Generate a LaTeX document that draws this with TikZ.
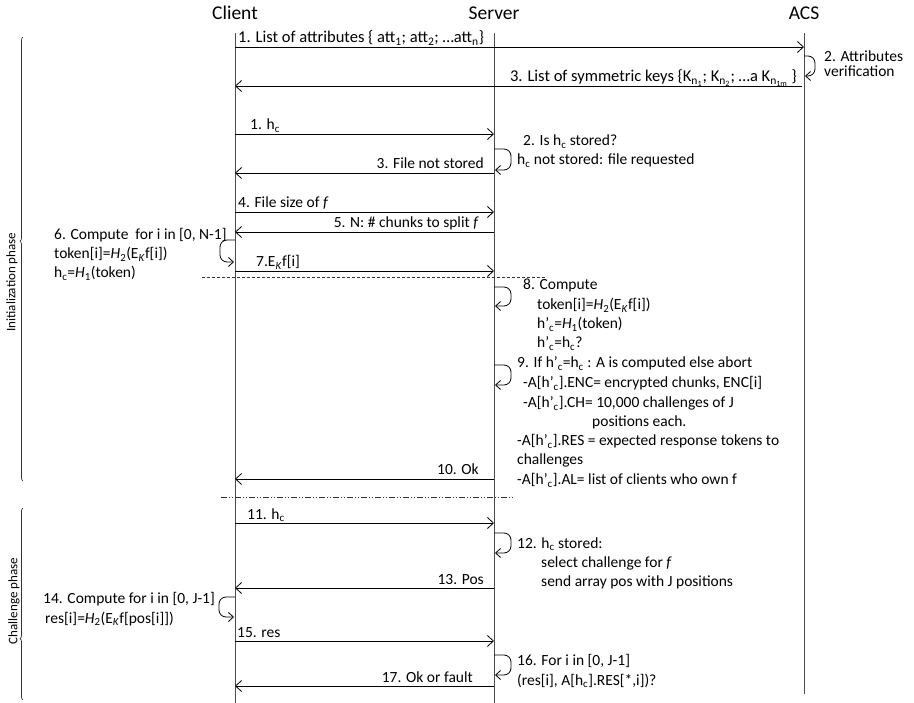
\documentclass[tikz,border=0pt]{standalone}
\usepackage{fontspec}
\setmainfont{Carlito}
\usetikzlibrary{arrows.meta,decorations.pathreplacing,calc}
\newcommand{\sbs}[1]{\textsubscript{#1}}
\newcommand{\hc}{h\sbs{c}}
\newcommand{\hpc}{h’\sbs{c}}
\newcommand{\EK}{E\sbs{\textit{K}}}
\begin{document}
\begin{tikzpicture}[x=1pt,y=-1pt,
  life/.style={draw=black!70,line width=0.8pt},
  msg/.style={draw=black,line width=0.8pt,-{Straight Barb[length=6pt,width=11pt]}},
  selfloop/.style={draw=black,line width=0.8pt,rounded corners=7pt,-{Straight Barb[length=5pt,width=9pt]},shorten >=1pt},
  lbl/.style={anchor=base west,inner sep=0pt,font=\fontsize{15.5}{18}\selectfont},
  rlbl/.style={anchor=base east,inner sep=0pt,font=\fontsize{15.5}{18}\selectfont},
  widelbl/.style={font=\fontsize{16.5}{19}\selectfont},
  head/.style={anchor=base,inner sep=0pt,font=\fontsize{19.5}{22}\selectfont},
  phase/.style={rotate=90,inner sep=0pt,font=\fontsize{13}{15}\selectfont},
  phbrace/.style={draw=black!80,line width=0.7pt,decorate}]
\useasboundingbox (0,0) rectangle (914,703);

% heads
\node[head] (hC) at (235,20) {Client};
\node[head] (hS) at (494,20) {Server};
\node[head] (hA) at (804,20) {ACS};

% lifelines
\coordinate (Ctop) at (235,33); \coordinate (Cbot) at (235,703);
\coordinate (Stop) at (494,33); \coordinate (Sbot) at (494,703);
\coordinate (Atop) at (804,33); \coordinate (Abot) at (804,694);
\draw[life] (Ctop) -- (Cbot);
\draw[life] (Stop) -- (Sbot);
\draw[life] (Atop) -- (Abot);

% message coordinates
\foreach \n/\y in {m1/47,m3/86,n1/134,n3/173,n4/212,n5/232,n7/271,n10/479,n11/523,n13/588,n15/641,n17/686,
  l2a/56,l2b/76,k2a/149,k2b/170,k6a/240,k6b/262,k8a/287,k8b/306,k9a/365,k9b/385,k12a/533,k12b/553,k14a/597,k14b/617,k16a/655,k16b/675}{
  \coordinate (C\n) at (235,\y);
  \coordinate (S\n) at (494,\y);
  \coordinate (A\n) at (804,\y);
}
\coordinate (Am3s) at (802,86);

% ACS exchange
\draw[msg] (Cm1) -- (Am1);
\node[lbl,widelbl] (t1) at (238,43) {1. List of attributes \{ att\sbs{1}; att\sbs{2}; …att\sbs{n}\}};
\draw[selfloop] (Al2a) -- ++(11,0) |- (Al2b);
\node[lbl] (t2a) at (824,62) {2. Attributes};
\node[lbl] (t2b) at (824,77) {verification};
\draw[msg] (Am3s) -- (Cm3);
\node[rlbl,widelbl] (t3) at (797,82) {3. List of symmetric keys \{K\sbs{n\sbs{1}}; K\sbs{n\sbs{2}}; …a K\sbs{n\sbs{1m}} \}};

% initialization with server
\draw[msg] (Cn1) -- (Sn1);
\node[lbl] (u1) at (250,130) {1. \hc};
\draw[selfloop] (Sk2a) -- ++(17,0) |- (Sk2b);
\node[lbl] (u2a) at (523,146) {2. Is \hc\ stored?};
\node[lbl] (u2b) at (517,165) {\hc\ not stored: file requested};
\draw[msg] (Sn3) -- (Cn3);
\node[rlbl] (u3) at (484,169) {3. File not stored};
\draw[msg] (Cn4) -- (Sn4);
\node[lbl] (u4) at (238,208) {4. File size of \textit{f}};
\draw[msg] (Sn5) -- (Cn5);
\node[rlbl] (u5) at (479,228) {5. N: \# chunks to split \textit{f}};
\draw[selfloop] (Ck6a) -- ++(-15,0) |- (Ck6b);
\node[lbl] (u6a) at (54,240) {6. Compute~ for i in [0, N-1]};
\node[lbl] (u6b) at (54,259) {token[i]=\textit{H}\sbs{2}(\EK f[i])};
\node[lbl] (u6c) at (54,278) {\hc=\textit{H}\sbs{1}(token)};
\draw[msg] (Cn7) -- (Sn7);
\node[lbl] (u7) at (256,267) {7.\EK f[i]};
\coordinate (d1a) at (202,277); \coordinate (d1b) at (547,277);
\draw[black!80,line width=0.7pt,dash pattern=on 3pt off 2pt] (d1a) -- (d1b);

\draw[selfloop] (Sk8a) -- ++(17,0) |- (Sk8b);
\node[lbl] (u8a) at (523,290) {8. Compute};
\node[lbl] (u8b) at (537,310) {token[i]=\textit{H}\sbs{2}(\EK f[i])};
\node[lbl] (u8c) at (537,329) {\hpc=\textit{H}\sbs{1}(token)};
\node[lbl] (u8d) at (537,348) {\hpc=\hc?};
\draw[selfloop] (Sk9a) -- ++(17,0) |- (Sk9b);
\node[lbl] (u9a) at (517,368) {9. If \hpc=\hc\ : A is computed else abort};
\node[lbl] (u9b) at (523,388) {-A[\hpc].ENC= encrypted chunks, ENC[i]};
\node[lbl] (u9c) at (523,408) {-A[\hpc].CH= 10,000 challenges of J};
\node[lbl] (u9d) at (592,427) {positions each.};
\node[lbl] (u9e) at (517,446) {-A[\hpc].RES = expected response tokens to};
\node[lbl] (u9f) at (517,465) {challenges};
\node[lbl] (u9g) at (517,485) {-A[\hpc].AL= list of clients who own f};
\draw[msg] (Sn10) -- (Cn10);
\node[rlbl] (u10) at (479,475) {10. Ok};
\coordinate (d2a) at (221,497); \coordinate (d2b) at (513,497);
\draw[black!80,line width=0.7pt,dash pattern=on 6pt off 2pt on 1pt off 2pt on 1pt off 2pt] (d2a) -- (d2b);

% challenge phase
\draw[msg] (Cn11) -- (Sn11);
\node[lbl] (v11) at (247,519) {11. \hc};
\draw[selfloop] (Sk12a) -- ++(17,0) |- (Sk12b);
\node[lbl] (v12a) at (517,548) {12. \hc\ stored:};
\node[lbl] (v12b) at (541,567) {select challenge for \textit{f}};
\node[lbl] (v12c) at (541,586) {send array pos with J positions};
\draw[msg] (Sn13) -- (Cn13);
\node[rlbl] (v13) at (484,584) {13. Pos};
\draw[selfloop] (Ck14a) -- ++(-16,0) |- (Ck14b);
\node[lbl] (v14a) at (43,603) {14. Compute for i in [0, J-1]};
\node[lbl] (v14b) at (45,623) {res[i]=\textit{H}\sbs{2}(\EK f[pos[i]])};
\draw[msg] (Cn15) -- (Sn15);
\node[lbl] (v15) at (237,637) {15. res};
\draw[selfloop] (Sk16a) -- ++(17,0) |- (Sk16b);
\node[lbl] (v16a) at (517,665) {16. For i in [0, J-1]};
\node[lbl] (v16b) at (517,685) {(res[i], A[\hc].RES[*,i])?};
\draw[msg] (Sn17) -- (Cn17);
\node[rlbl] (v17) at (473,682) {17. Ok or fault};

% phase braces
\coordinate (b1a) at (23,481); \coordinate (b1b) at (23,37);
\draw[phbrace,decoration={brace,amplitude=3pt,aspect=0.54}] (b1a) -- (b1b);
\node[phase] (p1) at (12,282) {Initialization phase};
\coordinate (b2a) at (23,700); \coordinate (b2b) at (23,508);
\draw[phbrace,decoration={brace,amplitude=3pt,aspect=0.32}] (b2a) -- (b2b);
\node[phase] (p2) at (14,601) {Challenge phase};
\end{tikzpicture}
\end{document}
